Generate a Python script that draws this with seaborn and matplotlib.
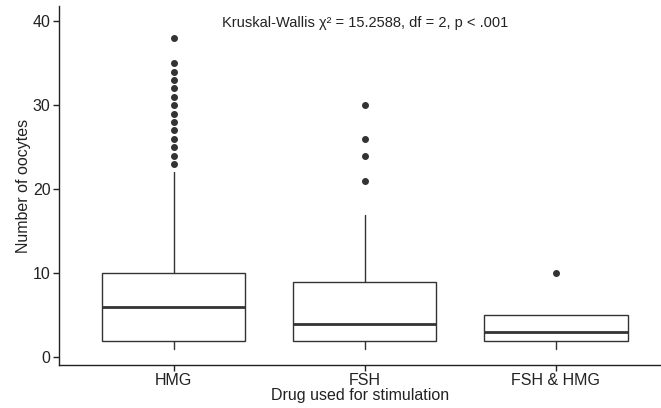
import matplotlib
matplotlib.use("Agg")
import matplotlib.pyplot as plt
import seaborn as sns

categories = ["HMG", "FSH", "FSH & HMG"]
q1 = [2, 2, 2]
median = [6, 4, 3]
q3 = [10, 9, 5]
whisker_low = [1, 1, 1]
whisker_high = [22, 17, 5]
outliers_hmg = [38, 35, 34, 33, 32, 31, 30, 29, 28, 27, 26, 25, 24, 23]
outliers_fsh = [30, 26, 24, 21]
outliers_both = [10]
outliers = [outliers_hmg, outliers_fsh, outliers_both]
y_ticks = [0, 10, 20, 30, 40]
annotation = "Kruskal-Wallis χ² = 15.2588, df = 2, p < .001"

sns.set_style("ticks")
plt.rcParams['font.family'] = ['Liberation Sans', 'DejaVu Sans']

fig = plt.figure(figsize=(6.61, 4.08), dpi=100)
ax = fig.add_axes([59 / 661, 43 / 408, 1 - 59 / 661, (402 - 43) / 408])

stats = []
for i, c in enumerate(categories):
    stats.append(dict(label=c, q1=q1[i], med=median[i], q3=q3[i],
                      whislo=whisker_low[i], whishi=whisker_high[i],
                      fliers=outliers[i]))

line_col = "#333333"
ax.bxp(stats, positions=range(len(categories)), widths=0.75, showcaps=False,
       patch_artist=True,
       boxprops=dict(facecolor="white", edgecolor=line_col, linewidth=1.0),
       medianprops=dict(color=line_col, linewidth=2.0),
       whiskerprops=dict(color=line_col, linewidth=1.0),
       flierprops=dict(marker="o", markerfacecolor=line_col, markeredgecolor=line_col,
                       markersize=4.0, linestyle="none"))

ax.set_xlim(-0.6, 2.55)
ax.set_ylim(-0.9, 41.8)
ax.set_yticks(y_ticks)
ax.set_xticks(range(len(categories)))
ax.set_xticklabels(categories)
ax.tick_params(axis="both", labelsize=11.5, colors="#222222", length=4, width=1, pad=2)
ax.set_xlabel("Drug used for stimulation", fontsize=11.5, color="#222222", labelpad=0)
ax.set_ylabel("Number of oocytes", fontsize=11.5, color="#222222", labelpad=1.5)
for s in ["left", "bottom"]:
    ax.spines[s].set_color("#222222")
    ax.spines[s].set_linewidth(1.0)
sns.despine(ax=ax)
ax.grid(False)

ax.text(1, 39.8, annotation, ha="center", va="center", fontsize=10.5, color="#222222")

fig.savefig("out.png", dpi=100)
